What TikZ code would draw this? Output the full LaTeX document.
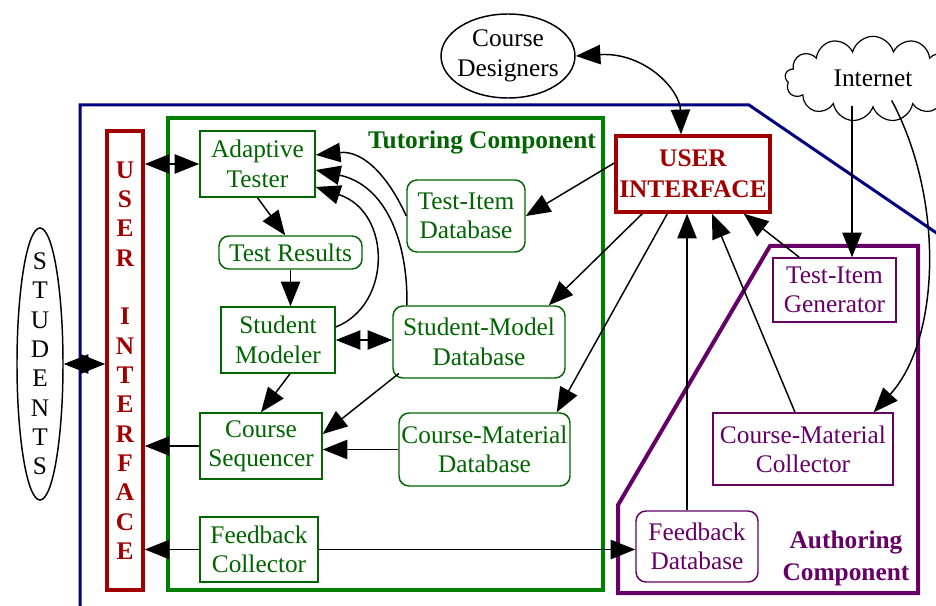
\documentclass[tikz,border=0pt]{standalone}
\usepackage{fontspec}
\setmainfont{Liberation Serif}
\usetikzlibrary{arrows.meta,shapes.geometric,shapes.symbols}
\definecolor{tgreen}{RGB}{0,100,0}
\definecolor{fgreen}{RGB}{0,128,0}
\definecolor{ured}{RGB}{160,0,0}
\definecolor{oblue}{RGB}{0,0,128}
\definecolor{apurple}{RGB}{102,0,102}
\tikzset{
  lbl/.style={font=\fontsize{19}{22}\selectfont, align=center, inner sep=0pt},
  blbl/.style={font=\bfseries\fontsize{19}{23}\selectfont, align=center, inner sep=0pt},
  gbox/.style={lbl, draw=tgreen, text=tgreen, line width=1.1pt, fill=white},
  gdb/.style={gbox, rounded corners=7.5pt},
  pbox/.style={lbl, draw=apurple, text=apurple, line width=1.1pt, fill=white},
  pdb/.style={pbox, rounded corners=7.5pt},
  arr/.style={line width=1.1pt, -{Triangle[length=18.5pt,width=14.5pt]}},
  darr/.style={line width=1.1pt, {Triangle[length=18.5pt,width=14.5pt]}-{Triangle[length=18.5pt,width=14.5pt]}},
}
\begin{document}
\begin{tikzpicture}[x=0.75pt,y=-0.75pt]
\useasboundingbox (0,0) rectangle (936,606);
\clip (0,0) rectangle (936,606);
% frames
\draw[oblue, line width=2.25pt] (80,620) -- (80,105) -- (749,105) -- (960,249);
\draw[fgreen, line width=3pt] (168,118) rectangle (603,590);
\draw[apurple, line width=3pt] (770,246) -- (918,246) -- (918,593) -- (618,593) -- (618,505) -- cycle;
% outside actors
\node[ellipse, draw, line width=1.1pt, minimum width=34.5pt, minimum height=204pt, inner sep=0pt] (stud) at (40,364) {};
\node[lbl, font=\fontsize{19}{22}\selectfont] (studtxt) at (stud) {S\\T\\U\\D\\E\\N\\T\\S};
\node[ellipse, draw, line width=1.1pt, minimum width=100.5pt, minimum height=63pt, inner sep=0pt] (cd) at (508,56) {};
\node[lbl, font=\fontsize{19}{22.5}\selectfont] (cdtxt) at (cd) {Course\\Designers};
\node[cloud, cloud puffs=13, cloud ignores aspect, draw, line width=0.9pt, minimum width=132pt, minimum height=64pt, inner sep=0pt] (net) at (873,79) {};
\node[lbl] (nettxt) at (873,78) {Internet};
% user interfaces
\node[draw=ured, line width=2.6pt, text=ured, blbl, font=\bfseries\fontsize{19}{22}\selectfont, minimum width=27pt, minimum height=344.25pt] (uil) at (125,360.5) {U\\S\\E\\R\\[22pt]I\\N\\T\\E\\R\\F\\A\\C\\E};
\node[draw=ured, line width=2.6pt, text=ured, fill=white, blbl, minimum width=115.5pt, minimum height=57pt] (ui) at (693,174) {USER\\INTERFACE};
% tutoring component
\node[blbl, text=tgreen] (tutlbl) at (482,143) {Tutoring Component};
\node[gbox, minimum width=86.25pt, minimum height=49.5pt] (at) at (257.5,164) {Adaptive\\Tester};
\node[gdb, minimum width=107.25pt, minimum height=24.75pt] (tr) at (290.5,252.5) {Test Results};
\node[gbox, minimum width=85.5pt, minimum height=49.5pt] (sm) at (278,340) {Student\\Modeler};
\node[gbox, minimum width=91.5pt, minimum height=49.5pt] (cs) at (261,446) {Course\\Sequencer};
\node[gbox, minimum width=88.5pt, minimum height=48.75pt] (fc) at (259,549.5) {Feedback\\Collector};
\node[gdb, minimum width=88.5pt, minimum height=54pt] (tid) at (466,216) {Test-Item\\Database};
\node[gdb, minimum width=129pt, minimum height=54pt] (smd) at (479,342) {Student-Model\\Database};
\node[gdb, minimum width=128.25pt, minimum height=54.75pt] (cmdb) at (484.5,449.5) {Course-Material\\Database};
% authoring component
\node[blbl, text=apurple, font=\bfseries\fontsize{19}{24}\selectfont] (autlbl) at (846,558) {Authoring\\Component};
\node[pbox, minimum width=92.25pt, minimum height=48pt] (tig) at (834.5,290) {Test-Item\\Generator};
\node[pbox, minimum width=135pt, minimum height=54pt] (cmc) at (803,449) {Course-Material\\Collector};
\node[pdb, minimum width=91.5pt, minimum height=53.25pt] (fd) at (697,546.5) {Feedback\\Database};
% connectors
\draw[darr] (stud.east) -- (stud.east -| uil.west);
\draw[darr] (at.west -| uil.east) -- (at.west);
\draw[arr] (at.south) -- ([xshift=-4pt]tr.north);
\draw[arr] (tr.south) -- (tr.south |- sm.north);
\draw[darr] (sm.east) -- (sm.east -| smd.west);
\draw[arr] ([xshift=9pt]sm.south) -- (cs.north);
\draw[arr] ([xshift=5pt,yshift=4pt]smd.south west) -- ([yshift=9pt]cs.east);
\draw[arr] (cmdb.west) -- (cmdb.west -| cs.east);
\draw[arr] (cs.west) -- (cs.west -| uil.east);
\draw[arr] (fc.west) -- (fc.west -| uil.east);
\draw[arr] (fc.east) -- (fc.east -| fd.west);
\draw[arr] (tid.west) .. controls (390,180) and (365,150) .. ([yshift=6.75pt]at.east);
\draw[arr] ([xshift=11pt]smd.north west) .. controls (408,240) and (385,185) .. ([yshift=-4.5pt]at.east);
\draw[arr] ([yshift=9.75pt]sm.east) .. controls (392,305) and (392,212) .. ([yshift=-17.25pt]at.east);
\draw[arr] ([yshift=8.25pt]ui.west) -- (tid.east);
\draw[arr] ([xshift=21pt]ui.south west) -- ([xshift=-12.75pt]smd.north east);
\draw[arr] ([xshift=39.75pt]ui.south west) -- ([xshift=-10.5pt]cmdb.north east);
\coordinate (fdtop) at ([xshift=-7.5pt]fd.north);
\draw[arr] (fdtop) -- (fdtop |- ui.south);
\draw[arr] ([xshift=-6pt]cmc.north) -- ([xshift=14.25pt]ui.south);
\draw[arr] ([xshift=20.25pt]tig.north west) -- ([xshift=-21pt]ui.south east);
\coordinate (inetb) at ([xshift=-15.75pt,yshift=2pt]net.south);
\draw[arr] (inetb) -- (inetb |- tig.north);
\draw[arr] ([xshift=14pt,yshift=6pt]net.south) .. controls (945,200) and (940,340) .. ([xshift=-15pt]cmc.north east);
\draw[darr] (cd.east) .. controls (645,52) and (680,90) .. ([xshift=-9pt]ui.north);
\end{tikzpicture}
\end{document}
